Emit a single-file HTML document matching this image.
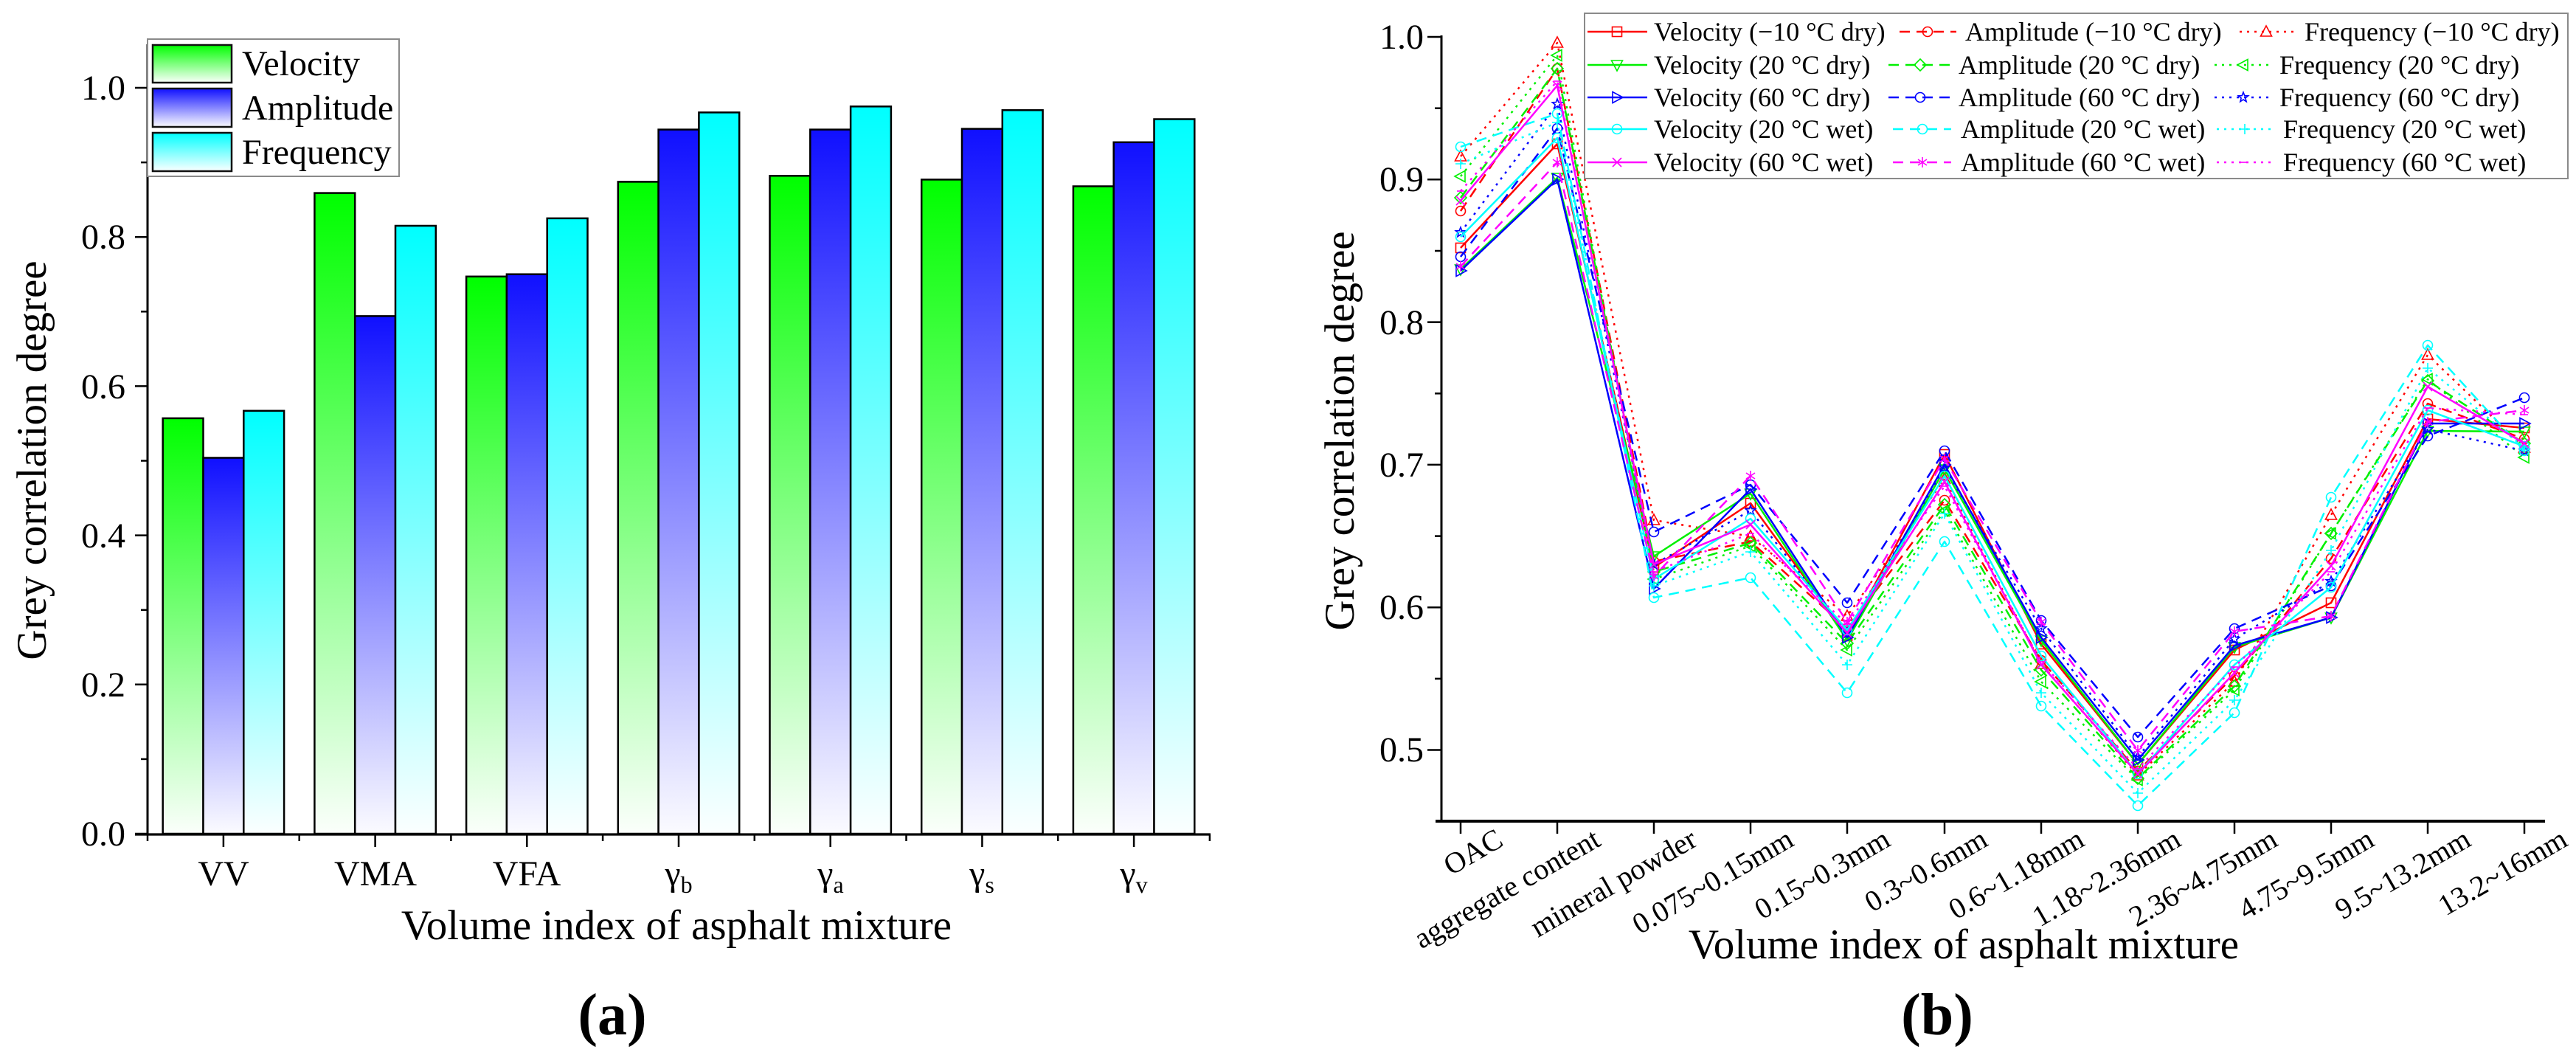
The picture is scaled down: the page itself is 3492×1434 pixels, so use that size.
<!DOCTYPE html>
<html><head><meta charset="utf-8"><style>html,body{margin:0;padding:0;background:#fff}svg{display:block}</style></head>
<body>
<svg width="3492" height="1434" viewBox="0 0 3492 1434" xmlns="http://www.w3.org/2000/svg" font-family="'Liberation Serif', serif">
<defs>
<linearGradient id="gG" x1="0" y1="0" x2="0" y2="1"><stop offset="0" stop-color="#00ff00"/><stop offset="1" stop-color="#fbfffb"/></linearGradient>
<linearGradient id="gB" x1="0" y1="0" x2="0" y2="1"><stop offset="0" stop-color="#1010ff"/><stop offset="1" stop-color="#fbfbff"/></linearGradient>
<linearGradient id="gC" x1="0" y1="0" x2="0" y2="1"><stop offset="0" stop-color="#00ffff"/><stop offset="1" stop-color="#fbffff"/></linearGradient>
<marker id="m1" viewBox="-10 -10 20 20" markerWidth="20" markerHeight="20" refX="0" refY="0" markerUnits="userSpaceOnUse" overflow="visible"><rect x="-6.5" y="-6.5" width="13" height="13" fill="none" stroke="#ff0000" stroke-width="1.6"/></marker>
<marker id="m2" viewBox="-10 -10 20 20" markerWidth="20" markerHeight="20" refX="0" refY="0" markerUnits="userSpaceOnUse" overflow="visible"><circle r="6.5" fill="none" stroke="#ff0000" stroke-width="1.6"/></marker>
<marker id="m3" viewBox="-10 -10 20 20" markerWidth="20" markerHeight="20" refX="0" refY="0" markerUnits="userSpaceOnUse" overflow="visible"><polygon points="0,-8 7.5,6 -7.5,6" fill="none" stroke="#ff0000" stroke-width="1.6"/></marker>
<marker id="m4" viewBox="-10 -10 20 20" markerWidth="20" markerHeight="20" refX="0" refY="0" markerUnits="userSpaceOnUse" overflow="visible"><polygon points="-7.5,-6 7.5,-6 0,8" fill="none" stroke="#00f000" stroke-width="1.6"/></marker>
<marker id="m5" viewBox="-10 -10 20 20" markerWidth="20" markerHeight="20" refX="0" refY="0" markerUnits="userSpaceOnUse" overflow="visible"><polygon points="0,-8 8,0 0,8 -8,0" fill="none" stroke="#00f000" stroke-width="1.6"/></marker>
<marker id="m6" viewBox="-10 -10 20 20" markerWidth="20" markerHeight="20" refX="0" refY="0" markerUnits="userSpaceOnUse" overflow="visible"><polygon points="-8,0 6,-7.5 6,7.5" fill="none" stroke="#00f000" stroke-width="1.6"/></marker>
<marker id="m7" viewBox="-10 -10 20 20" markerWidth="20" markerHeight="20" refX="0" refY="0" markerUnits="userSpaceOnUse" overflow="visible"><polygon points="8,0 -6,-7.5 -6,7.5" fill="none" stroke="#0000ff" stroke-width="1.6"/></marker>
<marker id="m8" viewBox="-10 -10 20 20" markerWidth="20" markerHeight="20" refX="0" refY="0" markerUnits="userSpaceOnUse" overflow="visible"><circle r="6.5" fill="none" stroke="#0000ff" stroke-width="1.6"/></marker>
<marker id="m9" viewBox="-10 -10 20 20" markerWidth="20" markerHeight="20" refX="0" refY="0" markerUnits="userSpaceOnUse" overflow="visible"><polygon points="0,-7 1.76,-2.43 6.66,-2.16 2.85,0.93 4.11,5.66 0,3 -4.11,5.66 -2.85,0.93 -6.66,-2.16 -1.76,-2.43" fill="none" stroke="#0000ff" stroke-width="1.6"/></marker>
<marker id="m10" viewBox="-10 -10 20 20" markerWidth="20" markerHeight="20" refX="0" refY="0" markerUnits="userSpaceOnUse" overflow="visible"><circle r="6.5" fill="none" stroke="#00ffff" stroke-width="1.6"/></marker>
<marker id="m11" viewBox="-10 -10 20 20" markerWidth="20" markerHeight="20" refX="0" refY="0" markerUnits="userSpaceOnUse" overflow="visible"><circle r="6.5" fill="none" stroke="#00ffff" stroke-width="1.6"/></marker>
<marker id="m12" viewBox="-10 -10 20 20" markerWidth="20" markerHeight="20" refX="0" refY="0" markerUnits="userSpaceOnUse" overflow="visible"><path d="M0 -7V7M-7 0H7" fill="none" stroke="#00ffff" stroke-width="1.6"/></marker>
<marker id="m13" viewBox="-10 -10 20 20" markerWidth="20" markerHeight="20" refX="0" refY="0" markerUnits="userSpaceOnUse" overflow="visible"><path d="M-6 -6L6 6M6 -6L-6 6" fill="none" stroke="#ff00ff" stroke-width="1.6"/></marker>
<marker id="m14" viewBox="-10 -10 20 20" markerWidth="20" markerHeight="20" refX="0" refY="0" markerUnits="userSpaceOnUse" overflow="visible"><path d="M0 -7V7M-6 -4L6 4M6 -4L-6 4" fill="none" stroke="#ff00ff" stroke-width="1.6"/></marker>
<marker id="m15" viewBox="-10 -10 20 20" markerWidth="20" markerHeight="20" refX="0" refY="0" markerUnits="userSpaceOnUse" overflow="visible"><path d="M-5 0H5" fill="none" stroke="#ff00ff" stroke-width="1.6"/></marker>
</defs>

<!-- ============ LEFT CHART (a) ============ -->
<g stroke="#000" stroke-width="2.5">
<!-- VV -->
<rect x="220.7" y="566.9" width="54.8" height="563.1" fill="url(#gG)"/>
<rect x="275.5" y="620.5" width="54.8" height="509.5" fill="url(#gB)"/>
<rect x="330.3" y="556.8" width="54.8" height="573.2" fill="url(#gC)"/>
<!-- VMA -->
<rect x="426.4" y="261.6" width="54.8" height="868.4" fill="url(#gG)"/>
<rect x="481.2" y="428.4" width="54.8" height="701.6" fill="url(#gB)"/>
<rect x="536.0" y="306.0" width="54.8" height="824.0" fill="url(#gC)"/>
<!-- VFA -->
<rect x="632.1" y="374.8" width="54.8" height="755.2" fill="url(#gG)"/>
<rect x="686.9" y="371.7" width="54.8" height="758.3" fill="url(#gB)"/>
<rect x="741.7" y="295.9" width="54.8" height="834.1" fill="url(#gC)"/>
<!-- gb -->
<rect x="837.8" y="246.4" width="54.8" height="883.6" fill="url(#gG)"/>
<rect x="892.6" y="175.6" width="54.8" height="954.4" fill="url(#gB)"/>
<rect x="947.4" y="152.4" width="54.8" height="977.6" fill="url(#gC)"/>
<!-- ga -->
<rect x="1043.5" y="238.3" width="54.8" height="891.7" fill="url(#gG)"/>
<rect x="1098.3" y="175.6" width="54.8" height="954.4" fill="url(#gB)"/>
<rect x="1153.1" y="144.3" width="54.8" height="985.7" fill="url(#gC)"/>
<!-- gs -->
<rect x="1249.2" y="243.4" width="54.8" height="886.6" fill="url(#gG)"/>
<rect x="1304.0" y="174.6" width="54.8" height="955.4" fill="url(#gB)"/>
<rect x="1358.8" y="149.3" width="54.8" height="980.7" fill="url(#gC)"/>
<!-- gv -->
<rect x="1454.9" y="252.5" width="54.8" height="877.5" fill="url(#gG)"/>
<rect x="1509.7" y="192.8" width="54.8" height="937.2" fill="url(#gB)"/>
<rect x="1564.5" y="161.5" width="54.8" height="968.5" fill="url(#gC)"/>
</g>

<!-- left axes -->
<g stroke="#000" fill="none">
<line x1="200" y1="1131" x2="200" y2="60" stroke-width="3"/>
<line x1="183" y1="1131" x2="1641" y2="1131" stroke-width="3.2"/>
<g stroke-width="2.5">
<line x1="183" y1="1130" x2="200" y2="1130"/>
<line x1="183" y1="927.8" x2="200" y2="927.8"/>
<line x1="183" y1="725.6" x2="200" y2="725.6"/>
<line x1="183" y1="523.4" x2="200" y2="523.4"/>
<line x1="183" y1="321.2" x2="200" y2="321.2"/>
<line x1="183" y1="119" x2="200" y2="119"/>
<line x1="191" y1="1028.9" x2="200" y2="1028.9"/>
<line x1="191" y1="826.7" x2="200" y2="826.7"/>
<line x1="191" y1="624.5" x2="200" y2="624.5"/>
<line x1="191" y1="422.3" x2="200" y2="422.3"/>
<line x1="191" y1="220.1" x2="200" y2="220.1"/>
<!-- x ticks -->
<line x1="200" y1="1131" x2="200" y2="1140"/>
<line x1="405.7" y1="1131" x2="405.7" y2="1140"/>
<line x1="611.4" y1="1131" x2="611.4" y2="1140"/>
<line x1="817.1" y1="1131" x2="817.1" y2="1140"/>
<line x1="1022.8" y1="1131" x2="1022.8" y2="1140"/>
<line x1="1228.5" y1="1131" x2="1228.5" y2="1140"/>
<line x1="1434.2" y1="1131" x2="1434.2" y2="1140"/>
<line x1="1639.9" y1="1131" x2="1639.9" y2="1140"/>
<line x1="302.9" y1="1131" x2="302.9" y2="1148"/>
<line x1="508.6" y1="1131" x2="508.6" y2="1148"/>
<line x1="714.3" y1="1131" x2="714.3" y2="1148"/>
<line x1="920" y1="1131" x2="920" y2="1148"/>
<line x1="1125.7" y1="1131" x2="1125.7" y2="1148"/>
<line x1="1331.4" y1="1131" x2="1331.4" y2="1148"/>
<line x1="1537.1" y1="1131" x2="1537.1" y2="1148"/>
</g>
</g>

<!-- left tick labels -->
<g font-size="48" fill="#000" text-anchor="end">
<text x="170" y="1146">0.0</text>
<text x="170" y="944">0.2</text>
<text x="170" y="742">0.4</text>
<text x="170" y="540">0.6</text>
<text x="170" y="337">0.8</text>
<text x="170" y="135">1.0</text>
</g>
<g font-size="48" fill="#000" text-anchor="middle">
<text x="303" y="1200">VV</text>
<text x="509" y="1200">VMA</text>
<text x="714" y="1200">VFA</text>
<text x="920" y="1200">γ<tspan font-size="32" dy="10">b</tspan></text>
<text x="1126" y="1200">γ<tspan font-size="32" dy="10">a</tspan></text>
<text x="1331" y="1200">γ<tspan font-size="32" dy="10">s</tspan></text>
<text x="1537" y="1200">γ<tspan font-size="32" dy="10">v</tspan></text>
</g>
<text x="917" y="1273" font-size="57" text-anchor="middle" fill="#000">Volume index of asphalt mixture</text>
<text transform="translate(62,624) rotate(-90)" font-size="57" text-anchor="middle" fill="#000">Grey correlation degree</text>

<!-- left legend -->
<rect x="200" y="53" width="341" height="186" fill="#fff" stroke="#8a8a8a" stroke-width="2"/>
<g stroke="#111" stroke-width="2.5">
<rect x="207" y="61" width="107" height="51" fill="url(#gG)"/>
<rect x="207" y="120" width="107" height="52" fill="url(#gB)"/>
<rect x="207" y="180" width="107" height="52" fill="url(#gC)"/>
</g>
<g font-size="48" fill="#000">
<text x="328" y="102">Velocity</text>
<text x="328" y="162">Amplitude</text>
<text x="328" y="222">Frequency</text>
</g>

<text x="830" y="1402" font-size="80" font-weight="bold" text-anchor="middle" fill="#000">(a)</text>

<!-- ============ RIGHT CHART (b) ============ -->
<g fill="none" stroke-width="2.5" stroke-linejoin="round">
<polyline stroke="#ff0000" marker-start="url(#m1)" marker-mid="url(#m1)" marker-end="url(#m1)" points="1980,336 2111,195 2242,769 2373,682 2504,862 2636,616 2767,873 2898,1036 3029,881 3160,817 3291,568 3422,580"/>
<polyline stroke="#ff0000" stroke-dasharray="14 9" marker-start="url(#m2)" marker-mid="url(#m2)" marker-end="url(#m2)" points="1980,286 2111,93 2242,761 2373,734 2504,852 2636,678 2767,895 2898,1045 3029,916 3160,757 3291,547 3422,595"/>
<polyline stroke="#ff0000" stroke-dasharray="3 7" marker-start="url(#m3)" marker-mid="url(#m3)" marker-end="url(#m3)" points="1980,212 2111,58 2242,705 2373,727 2504,835 2636,649 2767,900 2898,1051 3029,924 3160,698 3291,481 3422,607"/>
<polyline stroke="#00f000" marker-start="url(#m4)" marker-mid="url(#m4)" marker-end="url(#m4)" points="1980,365 2111,241 2242,754 2373,669 2504,868 2636,636 2767,868 2898,1036 3029,877 3160,837 3291,584 3422,585"/>
<polyline stroke="#00f000" stroke-dasharray="14 9" marker-start="url(#m5)" marker-mid="url(#m5)" marker-end="url(#m5)" points="1980,268 2111,93 2242,775 2373,736 2504,872 2636,684 2767,908 2898,1055 3029,930 3160,723 3291,516 3422,601"/>
<polyline stroke="#00f000" stroke-dasharray="3 7" marker-start="url(#m6)" marker-mid="url(#m6)" marker-end="url(#m6)" points="1980,239 2111,75 2242,785 2373,740 2504,881 2636,692 2767,924 2898,1057 3029,935 3160,723 3291,514 3422,620"/>
<polyline stroke="#0000ff" marker-start="url(#m7)" marker-mid="url(#m7)" marker-end="url(#m7)" points="1980,367 2111,243 2242,798 2373,663 2504,864 2636,630 2767,864 2898,1030 3029,875 3160,837 3291,574 3422,574"/>
<polyline stroke="#0000ff" stroke-dasharray="14 9" marker-start="url(#m8)" marker-mid="url(#m8)" marker-end="url(#m8)" points="1980,348 2111,174 2242,721 2373,657 2504,817 2636,611 2767,841 2898,999 3029,852 3160,794 3291,591 3422,539"/>
<polyline stroke="#0000ff" stroke-dasharray="3 7" marker-start="url(#m9)" marker-mid="url(#m9)" marker-end="url(#m9)" points="1980,315 2111,141 2242,765 2373,692 2504,858 2636,634 2767,852 2898,1026 3029,866 3160,788 3291,582 3422,611"/>
<polyline stroke="#00ffff" marker-start="url(#m10)" marker-mid="url(#m10)" marker-end="url(#m10)" points="1980,321 2111,187 2242,785 2373,703 2504,854 2636,645 2767,889 2898,1049 3029,901 3160,796 3291,556 3422,605"/>
<polyline stroke="#00ffff" stroke-dasharray="14 9" marker-start="url(#m11)" marker-mid="url(#m11)" marker-end="url(#m11)" points="1980,199 2111,154 2242,810 2373,783 2504,939 2636,734 2767,957 2898,1092 3029,966 3160,674 3291,468 3422,611"/>
<polyline stroke="#00ffff" stroke-dasharray="3 7" marker-start="url(#m12)" marker-mid="url(#m12)" marker-end="url(#m12)" points="1980,222 2111,166 2242,794 2373,748 2504,901 2636,696 2767,939 2898,1075 3029,949 3160,746 3291,499 3422,607"/>
<polyline stroke="#ff00ff" marker-start="url(#m13)" marker-mid="url(#m13)" marker-end="url(#m13)" points="1980,272 2111,116 2242,765 2373,711 2504,858 2636,653 2767,901 2898,1049 3029,912 3160,767 3291,524 3422,601"/>
<polyline stroke="#ff00ff" stroke-dasharray="14 9" marker-start="url(#m14)" marker-mid="url(#m14)" marker-end="url(#m14)" points="1980,361 2111,220 2242,781 2373,645 2504,843 2636,622 2767,843 2898,1017 3029,856 3160,835 3291,572 3422,556"/>
<polyline stroke="#ff00ff" stroke-dasharray="3 7" marker-start="url(#m15)" marker-mid="url(#m15)" marker-end="url(#m15)" points="1980,259 2111,110 2242,775 2373,723 2504,846 2636,659 2767,897 2898,1042 3029,904 3160,775 3291,553 3422,562"/>
</g>

<!-- right axes -->
<g stroke="#000" fill="none">
<line x1="1954" y1="1114" x2="1954" y2="48" stroke-width="3"/>
<line x1="1946" y1="1113" x2="3450" y2="1113" stroke-width="4"/>
<g stroke-width="2.5">
<line x1="1935" y1="1016.5" x2="1954" y2="1016.5"/>
<line x1="1935" y1="823.2" x2="1954" y2="823.2"/>
<line x1="1935" y1="629.9" x2="1954" y2="629.9"/>
<line x1="1935" y1="436.6" x2="1954" y2="436.6"/>
<line x1="1935" y1="243.3" x2="1954" y2="243.3"/>
<line x1="1935" y1="50" x2="1954" y2="50"/>
<line x1="1945" y1="919.9" x2="1954" y2="919.9"/>
<line x1="1945" y1="726.6" x2="1954" y2="726.6"/>
<line x1="1945" y1="533.3" x2="1954" y2="533.3"/>
<line x1="1945" y1="340" x2="1954" y2="340"/>
<line x1="1945" y1="146.7" x2="1954" y2="146.7"/>
<line x1="1980" y1="1113" x2="1980" y2="1130"/>
<line x1="2111" y1="1113" x2="2111" y2="1130"/>
<line x1="2242" y1="1113" x2="2242" y2="1130"/>
<line x1="2373" y1="1113" x2="2373" y2="1130"/>
<line x1="2504" y1="1113" x2="2504" y2="1130"/>
<line x1="2636" y1="1113" x2="2636" y2="1130"/>
<line x1="2767" y1="1113" x2="2767" y2="1130"/>
<line x1="2898" y1="1113" x2="2898" y2="1130"/>
<line x1="3029" y1="1113" x2="3029" y2="1130"/>
<line x1="3160" y1="1113" x2="3160" y2="1130"/>
<line x1="3291" y1="1113" x2="3291" y2="1130"/>
<line x1="3422" y1="1113" x2="3422" y2="1130"/>
</g>
</g>

<g font-size="48" fill="#000" text-anchor="end">
<text x="1930" y="1032">0.5</text>
<text x="1930" y="839">0.6</text>
<text x="1930" y="646">0.7</text>
<text x="1930" y="453">0.8</text>
<text x="1930" y="259">0.9</text>
<text x="1930" y="66">1.0</text>
</g>

<g font-size="40" fill="#000" text-anchor="end">
<text transform="translate(2040,1145) rotate(-30)">OAC</text>
<text transform="translate(2172,1145) rotate(-30)">aggregate content</text>
<text transform="translate(2303,1145) rotate(-30)">mineral powder</text>
<text transform="translate(2434,1145) rotate(-30)">0.075~0.15mm</text>
<text transform="translate(2565,1145) rotate(-30)">0.15~0.3mm</text>
<text transform="translate(2697,1145) rotate(-30)">0.3~0.6mm</text>
<text transform="translate(2828,1145) rotate(-30)">0.6~1.18mm</text>
<text transform="translate(2959,1145) rotate(-30)">1.18~2.36mm</text>
<text transform="translate(3090,1145) rotate(-30)">2.36~4.75mm</text>
<text transform="translate(3221,1145) rotate(-30)">4.75~9.5mm</text>
<text transform="translate(3352,1145) rotate(-30)">9.5~13.2mm</text>
<text transform="translate(3483,1145) rotate(-30)">13.2~16mm</text>
</g>

<text x="2662" y="1299" font-size="57" text-anchor="middle" fill="#000">Volume index of asphalt mixture</text>
<text transform="translate(1835,584) rotate(-90)" font-size="57" text-anchor="middle" fill="#000">Grey correlation degree</text>

<!-- right legend -->
<rect x="2148" y="18" width="1333" height="224" fill="#fff" stroke="#8a8a8a" stroke-width="2"/>
<g fill="none" stroke-width="2.5">
<polyline stroke="#ff0000" marker-mid="url(#m1)" points="2152,43 2192,43 2233,43"/>
<polyline stroke="#ff0000" stroke-dasharray="14 9" marker-mid="url(#m2)" points="2575,43 2613,43 2652,43"/>
<polyline stroke="#ff0000" stroke-dasharray="3 7" marker-mid="url(#m3)" points="3036,43 3072,43 3109,43"/>
<polyline stroke="#00f000" marker-mid="url(#m4)" points="2152,88 2192,88 2233,88"/>
<polyline stroke="#00f000" stroke-dasharray="14 9" marker-mid="url(#m5)" points="2560,88 2603,88 2645,88"/>
<polyline stroke="#00f000" stroke-dasharray="3 7" marker-mid="url(#m6)" points="3002,88 3041,88 3080,88"/>
<polyline stroke="#0000ff" marker-mid="url(#m7)" points="2152,132 2192,132 2233,132"/>
<polyline stroke="#0000ff" stroke-dasharray="14 9" marker-mid="url(#m8)" points="2560,132 2603,132 2645,132"/>
<polyline stroke="#0000ff" stroke-dasharray="3 7" marker-mid="url(#m9)" points="3002,132 3041,132 3080,132"/>
<polyline stroke="#00ffff" marker-mid="url(#m10)" points="2152,175 2192,175 2233,175"/>
<polyline stroke="#00ffff" stroke-dasharray="14 9" marker-mid="url(#m11)" points="2566,175 2606,175 2645,175"/>
<polyline stroke="#00ffff" stroke-dasharray="3 7" marker-mid="url(#m12)" points="3005,175 3043,175 3081,175"/>
<polyline stroke="#ff00ff" marker-mid="url(#m13)" points="2152,220 2192,220 2233,220"/>
<polyline stroke="#ff00ff" stroke-dasharray="14 9" marker-mid="url(#m14)" points="2566,220 2606,220 2645,220"/>
<polyline stroke="#ff00ff" stroke-dasharray="3 7" marker-mid="url(#m15)" points="3005,220 3043,220 3081,220"/>
</g>
<g font-size="36" fill="#000">
<text x="2242" y="55">Velocity (−10 °C dry)</text>
<text x="2664" y="55">Amplitude (−10 °C dry)</text>
<text x="3124" y="55">Frequency (−10 °C dry)</text>
<text x="2242" y="100">Velocity (20 °C dry)</text>
<text x="2655" y="100">Amplitude (20 °C dry)</text>
<text x="3090" y="100">Frequency (20 °C dry)</text>
<text x="2242" y="144">Velocity (60 °C dry)</text>
<text x="2655" y="144">Amplitude (60 °C dry)</text>
<text x="3090" y="144">Frequency (60 °C dry)</text>
<text x="2242" y="187">Velocity (20 °C wet)</text>
<text x="2658" y="187">Amplitude (20 °C wet)</text>
<text x="3095" y="187">Frequency (20 °C wet)</text>
<text x="2242" y="232">Velocity (60 °C wet)</text>
<text x="2658" y="232">Amplitude (60 °C wet)</text>
<text x="3095" y="232">Frequency (60 °C wet)</text>
</g>

<text x="2626" y="1402" font-size="80" font-weight="bold" text-anchor="middle" fill="#000">(b)</text>
</svg>
</body></html>
